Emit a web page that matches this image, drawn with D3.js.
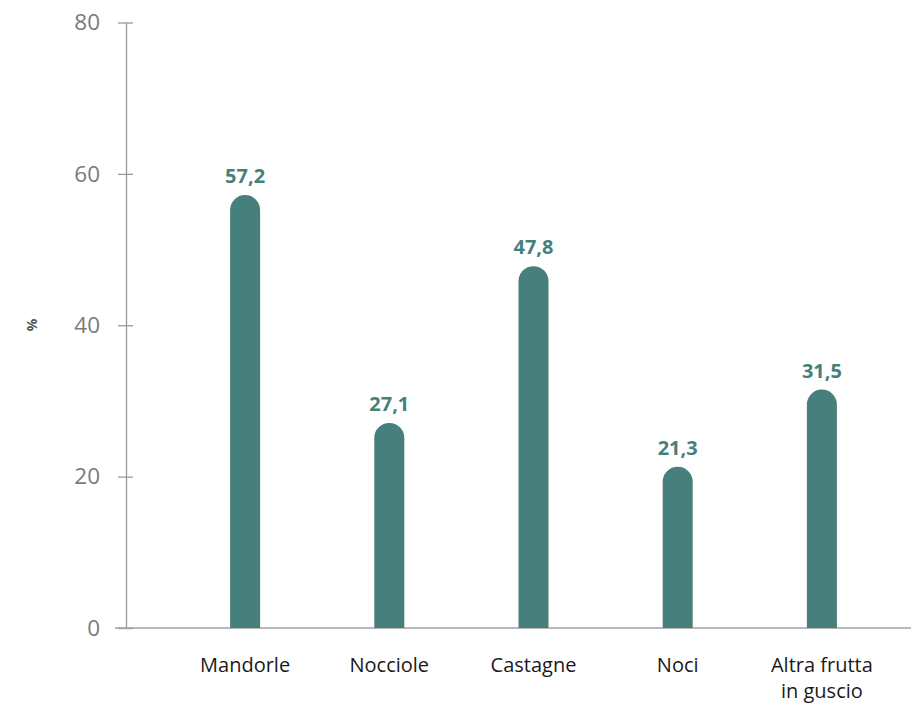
<!DOCTYPE html>
<html><head><meta charset="utf-8">
<script src="https://cdn.jsdelivr.net/npm/d3@7"></script>
<style>body{margin:0;background:#fff}</style>
</head><body>
<svg id="c" width="911" height="706"></svg>
<script>
const categories = [["Mandorle"],["Nocciole"],["Castagne"],["Noci"],["Altra frutta","in guscio"]];
const values = [57.2, 27.1, 47.8, 21.3, 31.5];
const valueLabels = ["57,2","27,1","47,8","21,3","31,5"];
const yTicks = [0,20,40,60,80];
const yTitle = "%";

const svg = d3.select("#c");
const keys = categories.map(c => c.join(" "));
const x = d3.scaleBand().domain(keys).range([173, 894]);
const y = d3.scaleLinear().domain([0, 80]).range([628, 22.5]);
const barW = 30, r = 15, color = "#467f7c";

// y axis
const ya = svg.append("g").attr("transform","translate(126,0)")
  .call(d3.axisLeft(y).tickValues(yTicks).tickSize(0).tickPadding(26));
ya.select(".domain").attr("stroke","#9a9a9a").attr("stroke-width",1.3);
ya.selectAll("text").attr("fill","#7a7a7a").attr("font-family","Open Sans").attr("font-weight",400).attr("font-size",22.5);
ya.selectAll(".tick").append("line").attr("x1",-8).attr("x2",7).attr("stroke","#9a9a9a").attr("stroke-width",1.3);
ya.selectAll(".tick").filter(d=>d===0).select("line").remove();

// x axis line
svg.append("line").attr("x1",115).attr("x2",911).attr("y1",y(0)).attr("y2",y(0))
  .attr("stroke","#a0a0a0").attr("stroke-width",1.5);

// bars
svg.selectAll("path.bar").data(values).join("path").attr("class","bar")
  .attr("fill",color)
  .attr("d",(v,i)=>{
    const cx = x(keys[i]) + x.bandwidth()/2;
    const x0 = cx - barW/2, x1 = cx + barW/2, yt = y(v), y0 = y(0);
    return `M${x0},${y0}L${x0},${yt+r}A${r},${r} 0 0 1 ${x1},${yt+r}L${x1},${y0}Z`;
  });

// value labels
svg.selectAll("text.val").data(values).join("text").attr("class","val")
  .attr("x",(v,i)=>x(keys[i]) + x.bandwidth()/2)
  .attr("y",v=>y(v)-12)
  .attr("text-anchor","middle").attr("fill",color)
  .attr("font-family","Open Sans").attr("font-weight",700).attr("font-size",20)
  .text((v,i)=>valueLabels[i]);

// category labels (one text element per line)
categories.forEach((c,i)=>{
  c.forEach((line,j)=>svg.append("text")
    .attr("x", x(keys[i]) + x.bandwidth()/2).attr("y", 672 + j*26)
    .attr("text-anchor","middle").attr("fill","#1a1a1a")
    .attr("font-family","Open Sans").attr("font-size",20)
    .text(line));
});

// y title
svg.append("text").attr("transform","translate(37,325) rotate(-90)")
  .attr("text-anchor","middle").attr("fill","#555").attr("font-family","Open Sans")
  .attr("font-weight",700).attr("font-size",14).text(yTitle);
</script>
</body></html>
